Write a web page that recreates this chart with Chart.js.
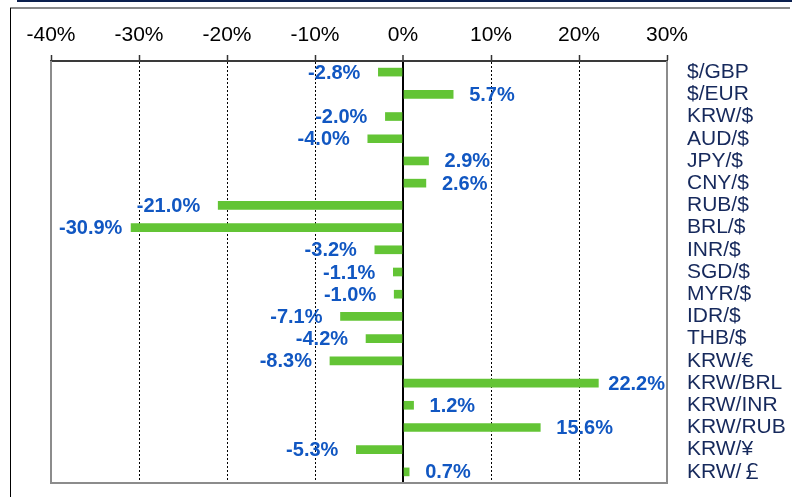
<!DOCTYPE html>
<html>
<head>
<meta charset="utf-8">
<script src="https://cdn.jsdelivr.net/npm/chart.js@4.4.1/dist/chart.umd.min.js"></script>
<style>
  html, body { margin: 0; padding: 0; background: #fff; }
  #wrap { position: relative; width: 795px; height: 497px; overflow: hidden; }
  #topRule { position: absolute; left: 17px; top: 0; width: 775px; height: 2px; background: #0b1f4e; }
  #boxTop { position: absolute; left: 10px; top: 7px; width: 780px; height: 2px; background: #8a8a8a; }
  #boxLeft { position: absolute; left: 10px; top: 8px; width: 1px; height: 489px; background: #000; }
  canvas { position: absolute; left: 0; top: 0; }
</style>
</head>
<body>
<div id="wrap">
  <div id="topRule"></div>
  <div id="boxTop"></div>
  <div id="boxLeft"></div>
  <canvas id="fxChart" width="795" height="497"></canvas>
</div>
<script>
// Currency pairs (top to bottom) and their % change
const pairs = ['$/GBP', '$/EUR', 'KRW/$', 'AUD/$', 'JPY/$', 'CNY/$', 'RUB/$', 'BRL/$',
    'INR/$', 'SGD/$', 'MYR/$', 'IDR/$', 'THB/$', 'KRW/€', 'KRW/BRL', 'KRW/INR',
    'KRW/RUB', 'KRW/¥', 'KRW/￡'];
const changes = [-2.8, 5.7, -2.0, -4.0, 2.9, 2.6, -21.0, -30.9, -3.2, -1.1, -1.0,
    -7.1, -4.2, -8.3, 22.2, 1.2, 15.6, -5.3, 0.7];

// Axis range
const tickMin = -40;
const tickMax = 30;
const tickStep = 10;

const barGreen = '#63c435';
const labelBlue = '#1157c2';
const pairNavy = '#16295c';
const FONT = 'Arial, "Liberation Sans", "Noto Sans CJK KR", sans-serif';

Chart.defaults.font.family = FONT;

// Value labels just past the end of each bar
const valueLabels = {
    id: 'valueLabels',
    afterDatasetsDraw(chart) {
        const { ctx, chartArea } = chart;
        const meta = chart.getDatasetMeta(0);
        ctx.save();
        ctx.font = 'bold 20px ' + FONT;
        ctx.fillStyle = labelBlue;
        ctx.textBaseline = 'middle';
        ctx.textAlign = 'left';
        meta.data.forEach((bar, i) => {
            const v = changes[i];
            const text = v.toFixed(1) + '%';
            const w = ctx.measureText(text).width;
            let x;
            if (v < 0) {
                x = Math.max(bar.x - 18 - w, chartArea.left + 8);
            } else {
                x = Math.min(bar.x + 16, chartArea.right - 2 - w);
            }
            ctx.fillText(text, x, bar.y + 1);
        });
        ctx.restore();
    }
};

// Grey frame on left, bottom and right of the plot area
const plotFrame = {
    id: 'plotFrame',
    afterDraw(chart) {
        const { ctx, chartArea: a } = chart;
        ctx.save();
        ctx.strokeStyle = '#8c8c8c';
        ctx.lineWidth = 2;
        ctx.beginPath();
        ctx.moveTo(a.left, a.top);
        ctx.lineTo(a.left, a.bottom);
        ctx.lineTo(a.right, a.bottom);
        ctx.lineTo(a.right, a.top);
        ctx.stroke();
        ctx.restore();
    }
};

new Chart(document.getElementById('fxChart').getContext('2d'), {
    type: 'bar',
    data: {
        labels: pairs,
        datasets: [{
            data: changes,
            backgroundColor: barGreen,
            borderWidth: 0,
            barThickness: 8
        }]
    },
    options: {
        indexAxis: 'y',
        responsive: false,
        animation: false,
        layout: { padding: { left: 51, top: 0, right: 0, bottom: 14 } },
        plugins: {
            legend: { display: false },
            tooltip: { enabled: false }
        },
        scales: {
            x: {
                position: 'top',
                min: tickMin,
                max: tickMax,
                ticks: {
                    stepSize: tickStep,
                    callback: v => v + '%',
                    color: '#000',
                    font: { size: 21 },
                    padding: 7,
                    maxRotation: 0
                },
                grid: {
                    color: c => (c.tick.value === tickMin || c.tick.value === tickMax) ? 'rgba(0,0,0,0)' : '#000',
                    lineWidth: c => c.tick.value === 0 ? 2 : 1,
                    tickLength: 6,
                    tickColor: '#333',
                    tickWidth: 1.5,
                    tickBorderDash: []
                },
                border: {
                    display: true,
                    color: '#3a3a3a',
                    width: 2,
                    dash: c => (!c.tick || c.tick.value === 0) ? [] : [2, 2]
                },
                afterFit: s => { s.height = 61; s.paddingLeft = 0; s.paddingRight = 0; }
            },
            y: {
                position: 'right',
                grid: { display: false, drawTicks: false },
                border: { display: false },
                ticks: {
                    color: pairNavy,
                    font: { size: 21 },
                    padding: 20,
                    autoSkip: false
                },
                afterFit: s => { s.width = 128; s.paddingTop = 0; s.paddingBottom = 0; }
            }
        }
    },
    plugins: [valueLabels, plotFrame]
});
</script>
</body>
</html>
